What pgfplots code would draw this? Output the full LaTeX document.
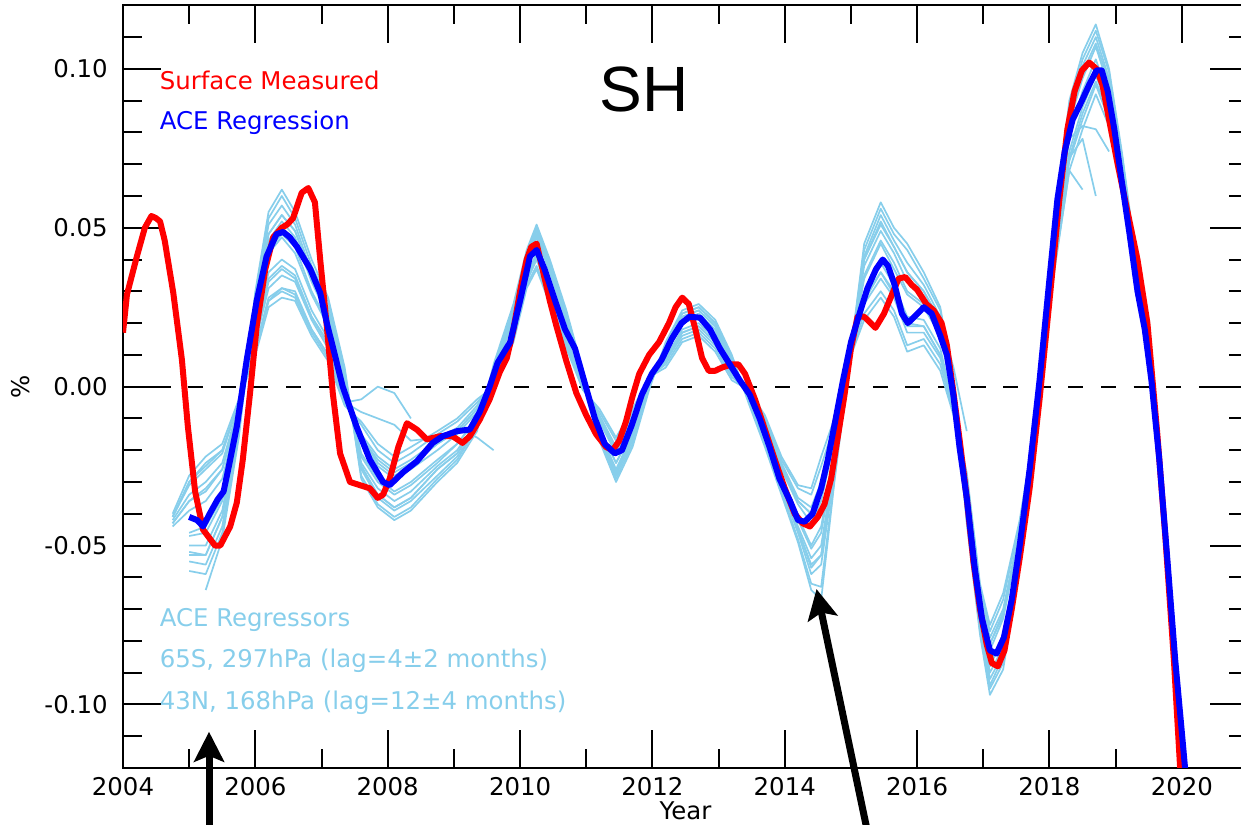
\documentclass[border=0pt]{standalone}
\usepackage{fontspec}
\setmainfont{DejaVu Sans}
\newfontfamily\arialf{Liberation Sans}
\usepackage{pgfplots}
\pgfplotsset{compat=1.18}
\usepackage{pgfplotstable}
\usetikzlibrary{arrows.meta}
\definecolor{skyb}{RGB}{135,206,235}

\pgfplotstableread{
t A K B C D N E F L I J G H O P Q
2004.75 nan nan nan nan nan nan -0.044 -0.042 -0.041 -0.040 -0.043 -0.041 -0.041 nan nan -0.043
2005.0 nan -0.058 -0.055 -0.050 -0.046 -0.047 -0.039 -0.034 -0.030 -0.028 -0.036 -0.030 -0.031 -0.053 -0.052 -0.036
2005.25 -0.064 -0.059 -0.056 -0.050 -0.044 -0.046 -0.036 -0.030 -0.025 -0.022 -0.032 -0.024 -0.026 -0.053 -0.053 -0.033
2005.5 -0.048 -0.046 -0.044 -0.039 -0.035 -0.036 -0.029 -0.024 -0.020 -0.018 -0.026 -0.020 -0.021 -0.041 -0.041 -0.026
2005.75 -0.016 -0.015 -0.014 -0.012 -0.011 -0.011 -0.008 -0.006 -0.005 -0.004 -0.007 -0.005 -0.005 -0.013 -0.013 -0.007
2006.0 0.030 0.029 0.027 0.024 0.021 0.022 0.017 0.014 0.012 0.010 0.015 0.011 0.012 0.026 0.026 0.016
2006.2 0.055 0.053 0.051 0.046 0.042 0.043 0.036 0.031 0.027 0.025 0.033 0.027 0.028 0.048 0.048 0.034
2006.4 0.062 0.060 0.057 0.052 0.047 0.048 0.040 0.035 0.031 0.028 0.037 0.030 0.031 0.054 0.054 0.038
2006.6 0.055 0.053 0.051 0.047 0.042 0.044 0.037 0.033 0.029 0.027 0.034 0.028 0.030 0.049 0.049 0.035
2006.85 0.040 0.038 0.036 0.033 0.029 0.030 0.024 0.021 0.018 0.016 0.022 0.017 0.018 0.035 0.035 0.022
2007.1 0.028 0.027 0.025 0.022 0.019 0.020 0.015 0.012 0.010 0.008 0.013 0.009 0.010 0.024 0.024 0.014
2007.35 0.006 0.005 0.004 0.002 0.001 0.001 -0.002 -0.004 -0.005 -0.006 -0.003 -0.005 -0.005 0.003 0.003 -0.003
2007.6 -0.029 -0.028 -0.026 -0.024 -0.021 -0.022 -0.017 -0.015 -0.012 -0.011 -0.016 -0.004 -0.008 -0.025 -0.025 -0.016
2007.85 -0.038 -0.037 -0.035 -0.032 -0.029 -0.030 -0.025 -0.022 -0.020 -0.018 -0.023 0.000 -0.010 -0.034 -0.034 -0.024
2008.1 -0.042 -0.041 -0.039 -0.036 -0.033 -0.034 -0.029 -0.026 -0.024 -0.022 -0.027 -0.002 -0.012 -0.038 -0.038 -0.028
2008.35 -0.039 -0.038 -0.036 -0.033 -0.030 -0.031 -0.026 -0.023 -0.021 -0.019 -0.024 -0.010 -0.017 -0.035 -0.035 -0.025
2008.75 -0.030 -0.029 -0.028 -0.025 -0.023 -0.024 -0.020 -0.017 -0.015 -0.014 -0.018 nan -0.016 -0.026 -0.026 -0.018
2009.05 -0.024 -0.023 -0.022 -0.020 -0.018 -0.018 -0.015 -0.013 -0.011 -0.010 -0.014 nan -0.013 -0.021 -0.021 -0.014
2009.35 -0.014 -0.013 -0.013 -0.011 -0.010 -0.010 -0.008 -0.006 -0.005 -0.004 -0.007 nan -0.016 -0.012 -0.012 -0.007
2009.6 0.007 0.006 0.006 0.005 0.004 0.004 0.003 0.002 0.001 0.000 0.002 nan -0.020 0.006 0.006 0.003
2009.9 0.026 0.025 0.024 0.022 0.021 0.021 0.018 0.016 0.015 0.014 0.017 nan nan 0.023 0.023 0.017
2010.1 0.043 0.042 0.041 0.039 0.038 0.038 0.035 0.033 0.032 0.031 0.034 nan nan 0.040 0.040 0.034
2010.25 0.051 0.050 0.049 0.047 0.045 0.045 0.042 0.040 0.038 0.037 0.041 nan nan 0.048 0.048 0.041
2010.45 0.040 0.039 0.038 0.036 0.034 0.034 0.031 0.029 0.027 0.026 0.030 nan nan 0.037 0.037 0.030
2010.7 0.024 0.023 0.022 0.020 0.019 0.019 0.016 0.014 0.013 0.012 0.015 nan nan 0.021 0.021 0.015
2010.95 0.005 0.005 0.004 0.003 0.002 0.003 0.001 0.000 -0.001 -0.001 0.000 nan nan 0.004 0.004 0.001
2011.2 -0.017 -0.016 -0.016 -0.014 -0.013 -0.013 -0.011 -0.009 -0.008 -0.007 -0.010 nan nan -0.015 -0.015 -0.010
2011.45 -0.030 -0.029 -0.028 -0.026 -0.024 -0.024 -0.021 -0.019 -0.017 -0.016 -0.020 nan nan -0.027 -0.027 -0.020
2011.7 -0.019 -0.018 -0.017 -0.015 -0.014 -0.014 -0.011 -0.009 -0.008 -0.007 -0.010 nan nan -0.016 -0.016 -0.010
2011.95 -0.001 0.000 0.000 0.001 0.001 0.001 0.002 0.002 0.003 0.003 0.002 nan nan 0.000 0.001 0.002
2012.2 0.014 0.013 0.013 0.012 0.010 0.011 0.009 0.008 0.007 0.006 0.008 nan nan 0.012 0.013 0.008
2012.45 0.024 0.023 0.023 0.021 0.020 0.020 0.018 0.016 0.015 0.014 0.017 nan nan 0.022 0.022 0.017
2012.7 0.026 0.025 0.025 0.023 0.022 0.022 0.020 0.018 0.017 0.016 0.019 nan nan 0.024 0.024 0.019
2012.95 0.021 0.020 0.020 0.018 0.017 0.017 0.015 0.013 0.012 0.011 0.014 nan nan 0.019 0.019 0.014
2013.2 0.010 0.009 0.009 0.008 0.006 0.007 0.005 0.004 0.003 0.002 0.004 nan nan 0.008 0.008 0.004
2013.45 -0.005 -0.004 -0.004 -0.003 -0.003 -0.003 -0.002 -0.002 -0.001 -0.001 -0.002 nan nan -0.004 -0.004 -0.002
2013.7 -0.019 -0.018 -0.018 -0.016 -0.015 -0.015 -0.013 -0.011 -0.010 -0.009 -0.012 nan nan -0.017 -0.017 -0.012
2013.95 -0.034 -0.033 -0.032 -0.030 -0.029 -0.029 -0.026 -0.024 -0.023 -0.022 -0.025 nan nan -0.031 -0.031 -0.025
2014.2 -0.049 -0.048 -0.046 -0.044 -0.041 -0.042 -0.037 -0.035 -0.032 -0.031 -0.036 nan nan -0.045 -0.045 -0.036
2014.4 -0.064 -0.062 -0.059 -0.054 -0.050 -0.051 -0.043 -0.038 -0.034 -0.032 -0.040 nan nan -0.057 -0.056 -0.040
2014.55 -0.067 -0.063 -0.056 -0.050 -0.044 -0.046 -0.036 -0.030 -0.025 -0.022 -0.032 nan nan -0.053 -0.053 -0.033
2014.75 -0.030 -0.029 -0.027 -0.024 -0.021 -0.022 -0.017 -0.014 -0.012 -0.010 -0.015 nan nan -0.026 -0.026 -0.016
2014.95 0.003 0.004 0.004 0.005 0.005 0.005 0.006 0.006 0.007 0.007 0.006 nan nan 0.004 0.004 0.006
2015.2 0.045 0.043 0.041 0.038 0.034 0.035 0.029 0.026 0.023 0.021 0.027 nan nan 0.040 0.040 0.028
2015.45 0.058 0.056 0.054 0.049 0.045 0.046 0.039 0.034 0.030 0.028 0.036 nan nan 0.051 0.052 0.036
2015.65 0.050 0.048 0.046 0.042 0.037 0.039 0.032 0.028 0.024 0.022 0.029 nan nan 0.044 0.044 0.030
2015.85 0.045 0.043 0.039 0.033 0.029 0.030 0.022 0.017 0.013 0.011 0.019 nan nan 0.036 0.036 0.020
2016.1 0.036 0.034 0.032 0.028 0.025 0.026 0.021 0.017 0.015 0.013 0.019 nan nan 0.030 0.030 0.019
2016.35 0.025 0.024 0.022 0.019 0.016 0.017 0.012 0.009 0.007 0.005 0.010 nan nan 0.021 0.020 0.010
2016.55 0.001 0.000 -0.001 -0.002 -0.004 -0.003 -0.006 -0.007 -0.008 -0.009 -0.007 nan nan 0.006 -0.002 -0.006
2016.75 -0.043 -0.042 -0.041 -0.038 -0.036 -0.037 -0.033 -0.030 -0.028 -0.027 -0.031 nan nan -0.014 -0.040 -0.032
2016.95 -0.078 -0.077 -0.076 -0.073 -0.071 -0.072 -0.068 -0.065 -0.063 -0.062 -0.066 nan nan nan -0.074 -0.066
2017.1 -0.097 -0.095 -0.094 -0.090 -0.087 -0.088 -0.083 -0.079 -0.077 -0.075 -0.081 nan nan nan -0.092 -0.081
2017.3 -0.089 -0.087 -0.085 -0.082 -0.078 -0.079 -0.073 -0.070 -0.067 -0.065 -0.071 nan nan nan -0.084 -0.072
2017.55 -0.056 -0.055 -0.054 -0.052 -0.050 -0.050 -0.047 -0.045 -0.043 -0.042 -0.046 nan nan nan -0.053 -0.046
2017.8 -0.014 -0.013 -0.013 -0.012 -0.012 -0.012 -0.011 -0.011 -0.010 -0.010 -0.011 nan nan nan -0.012 -0.011
2018.05 0.047 0.046 0.045 0.043 0.041 0.041 0.038 0.036 0.034 0.033 0.037 nan nan nan 0.044 0.037
2018.3 0.090 0.088 0.086 0.083 0.079 0.078 0.074 0.071 0.068 0.068 0.072 nan nan nan 0.084 0.072
2018.5 0.105 0.103 0.101 0.097 0.093 0.082 0.088 0.084 0.081 0.062 0.078 nan nan nan 0.099 0.086
2018.7 0.114 0.112 0.110 0.107 0.103 0.081 0.098 0.095 0.092 nan 0.060 nan nan nan 0.108 0.096
2018.9 0.100 0.099 0.097 0.094 0.091 0.074 0.087 0.084 0.082 nan nan nan nan nan 0.096 0.086
2019.1 0.073 0.072 0.072 0.070 0.069 nan 0.067 0.065 0.064 nan nan nan nan nan 0.071 0.066
2019.35 0.034 0.033 0.033 0.032 0.030 nan 0.029 0.028 0.027 nan nan nan nan nan 0.032 0.028
2019.6 -0.012 -0.011 -0.011 -0.010 -0.010 nan -0.009 -0.009 -0.008 nan nan nan nan nan -0.010 -0.009
2019.85 -0.074 -0.073 -0.073 -0.072 -0.070 nan -0.069 -0.068 -0.067 nan nan nan nan nan -0.072 -0.068
2020.05 -0.124 -0.123 -0.123 -0.122 -0.120 nan -0.119 -0.118 -0.117 nan nan nan nan nan -0.122 -0.118
2020.15 -0.150 -0.150 -0.150 -0.150 -0.150 nan -0.150 -0.150 -0.150 nan nan nan nan nan -0.150 -0.150
}\ens

\begin{document}
\begin{tikzpicture}
\useasboundingbox (-61.5pt,-28pt) rectangle (559pt,384pt);
\begin{axis}[
  at={(0pt,0pt)}, anchor=south west,
  scale only axis, width=562.5pt, height=381.35pt,
  xmin=2004, xmax=2021, ymin=-0.12, ymax=0.12,
  xtick={2004,2006,2008,2010,2012,2014,2016,2018,2020},
  xticklabels={2004,2006,2008,2010,2012,2014,2016,2018,2020},
  minor xtick={2005,2007,2009,2011,2013,2015,2017,2019},
  ytick={-0.1,-0.05,0,0.05,0.1},
  yticklabels={-0.10,-0.05,0.00,0.05,0.10},
  minor ytick={-0.11,-0.09,-0.08,-0.07,-0.06,-0.04,-0.03,-0.02,-0.01,0.01,0.02,0.03,0.04,0.06,0.07,0.08,0.09,0.11},
  major tick length=19pt, minor tick length=9.5pt,
  tick style={black, line width=1pt},
  axis line style={line width=1pt},
  tick label style={font=\fontsize{12.2}{14}\selectfont},
  yticklabel style={inner sep=0pt, xshift=-7.5pt},
  xticklabel style={inner sep=0pt, yshift=-4.5pt},
  clip mode=individual,
  unbounded coords=jump,
]
\addplot[black, line width=1pt, dash pattern=on 7.5pt off 8.8pt] coordinates {(2004,0) (2021,0)};

\foreach \c in {A,K,B,P,C,D,N,E,Q,F,L,I,J,G,H,O}{
  \addplot[skyb, line width=0.85pt, line join=round] table[x=t, y=\c] {\ens};
}

\addplot[red, line width=3pt, line join=round] coordinates {
(2004.0,0.017) (2004.06,0.029) (2004.21,0.041) (2004.33,0.050) (2004.43,0.0537)
(2004.5,0.053) (2004.56,0.052) (2004.63,0.046) (2004.76,0.0295) (2004.89,0.0085)
(2004.98,-0.0125) (2005.09,-0.033) (2005.21,-0.045) (2005.39,-0.050) (2005.47,-0.050)
(2005.62,-0.044) (2005.72,-0.0365) (2005.81,-0.023) (2005.92,-0.002) (2006.02,0.019)
(2006.15,0.037) (2006.27,0.047) (2006.4,0.050) (2006.48,0.051) (2006.57,0.053)
(2006.7,0.061) (2006.8,0.0625) (2006.9,0.058) (2006.98,0.040) (2007.08,0.019)
(2007.17,-0.002) (2007.28,-0.021) (2007.43,-0.030) (2007.58,-0.031) (2007.73,-0.032)
(2007.85,-0.035) (2007.93,-0.034) (2008.03,-0.029) (2008.16,-0.019) (2008.29,-0.0115)
(2008.44,-0.0135) (2008.59,-0.0166) (2008.79,-0.0156) (2008.98,-0.0156) (2009.13,-0.0177)
(2009.24,-0.0156) (2009.39,-0.0104) (2009.54,-0.004) (2009.69,0.0044) (2009.8,0.009)
(2009.9,0.018) (2010.0,0.030) (2010.1,0.040) (2010.17,0.044) (2010.25,0.045)
(2010.35,0.036) (2010.45,0.027) (2010.55,0.019) (2010.7,0.008) (2010.85,-0.002)
(2011.0,-0.009) (2011.15,-0.015) (2011.3,-0.019) (2011.4,-0.020) (2011.5,-0.017)
(2011.6,-0.011) (2011.7,-0.003) (2011.8,0.004) (2011.95,0.010) (2012.1,0.014)
(2012.25,0.020) (2012.35,0.025) (2012.45,0.028) (2012.55,0.026) (2012.65,0.018)
(2012.75,0.009) (2012.85,0.005) (2012.95,0.005) (2013.05,0.006) (2013.2,0.007)
(2013.3,0.007) (2013.4,0.004) (2013.55,-0.004) (2013.7,-0.0135) (2013.85,-0.023)
(2014.0,-0.032) (2014.15,-0.040) (2014.27,-0.043) (2014.38,-0.044) (2014.5,-0.041)
(2014.6,-0.037) (2014.7,-0.029) (2014.8,-0.016) (2014.9,-0.003) (2015.0,0.012)
(2015.1,0.022) (2015.2,0.022) (2015.3,0.020) (2015.37,0.0185) (2015.5,0.023)
(2015.62,0.029) (2015.72,0.034) (2015.82,0.0345) (2015.92,0.032) (2016.0,0.0305)
(2016.14,0.026) (2016.25,0.024) (2016.37,0.020) (2016.45,0.013) (2016.55,-0.002)
(2016.65,-0.018) (2016.75,-0.035) (2016.85,-0.055) (2016.95,-0.070) (2017.05,-0.081)
(2017.13,-0.087) (2017.22,-0.088) (2017.32,-0.083) (2017.43,-0.070) (2017.55,-0.054)
(2017.7,-0.032) (2017.85,-0.004) (2018.0,0.027) (2018.15,0.059) (2018.27,0.081)
(2018.38,0.093) (2018.49,0.0995) (2018.6,0.102) (2018.71,0.100) (2018.8,0.095)
(2018.91,0.083) (2019.03,0.070) (2019.18,0.055) (2019.33,0.040) (2019.48,0.020)
(2019.63,-0.015) (2019.75,-0.047) (2019.88,-0.086) (2019.98,-0.122)
};

\addplot[blue, line width=3pt, line join=round] coordinates {
(2005.0,-0.041) (2005.12,-0.042) (2005.21,-0.044) (2005.31,-0.040) (2005.43,-0.0355)
(2005.52,-0.033) (2005.6,-0.025) (2005.72,-0.0125) (2005.87,0.0085) (2006.02,0.027)
(2006.17,0.041) (2006.32,0.048) (2006.42,0.0487) (2006.52,0.047) (2006.63,0.044)
(2006.83,0.037) (2006.98,0.0295) (2007.08,0.020) (2007.17,0.0126) (2007.32,0.0)
(2007.53,-0.0126) (2007.73,-0.023) (2007.93,-0.030) (2008.03,-0.031) (2008.23,-0.027)
(2008.44,-0.0235) (2008.68,-0.0177) (2008.83,-0.0156) (2009.05,-0.014) (2009.24,-0.0135)
(2009.39,-0.008) (2009.54,0.0) (2009.66,0.0075) (2009.85,0.014) (2010.0,0.027)
(2010.15,0.041) (2010.25,0.043) (2010.37,0.037) (2010.53,0.027) (2010.68,0.018)
(2010.83,0.012) (2010.98,0.001) (2011.13,-0.010) (2011.28,-0.018) (2011.43,-0.021)
(2011.54,-0.020) (2011.69,-0.012) (2011.84,-0.0025) (2011.99,0.004) (2012.14,0.0085)
(2012.29,0.015) (2012.44,0.020) (2012.56,0.022) (2012.72,0.0217) (2012.87,0.018)
(2013.02,0.012) (2013.17,0.007) (2013.32,0.002) (2013.47,-0.0025) (2013.62,-0.010)
(2013.77,-0.019) (2013.92,-0.029) (2014.08,-0.036) (2014.2,-0.042) (2014.3,-0.0425)
(2014.42,-0.040) (2014.55,-0.032) (2014.65,-0.023) (2014.77,-0.010) (2014.88,0.002)
(2015.0,0.014) (2015.13,0.023) (2015.25,0.031) (2015.38,0.037) (2015.48,0.040)
(2015.56,0.038) (2015.66,0.032) (2015.77,0.023) (2015.86,0.020) (2015.96,0.022)
(2016.1,0.025) (2016.22,0.023) (2016.35,0.016) (2016.45,0.010) (2016.55,-0.003)
(2016.64,-0.019) (2016.75,-0.035) (2016.87,-0.057) (2016.98,-0.073) (2017.1,-0.083)
(2017.2,-0.084) (2017.31,-0.079) (2017.43,-0.067) (2017.55,-0.050) (2017.7,-0.026)
(2017.85,0.002) (2018.0,0.034) (2018.12,0.059) (2018.23,0.074) (2018.35,0.084)
(2018.49,0.090) (2018.6,0.095) (2018.71,0.0995) (2018.79,0.0995) (2018.88,0.093)
(2018.98,0.081) (2019.09,0.065) (2019.21,0.048) (2019.33,0.030) (2019.44,0.018)
(2019.54,0.002) (2019.66,-0.023) (2019.78,-0.054) (2019.9,-0.086) (2020.01,-0.111)
(2020.07,-0.125)
};

\node[anchor=base west, text=red, inner sep=0pt, font=\fontsize{12.2}{14}\selectfont] at (axis cs:2004.55,0.0935) {Surface Measured};
\node[anchor=base west, text=blue, inner sep=0pt, font=\fontsize{12.2}{14}\selectfont] at (axis cs:2004.55,0.081) {ACE Regression};
\node[anchor=base west, text=skyb, inner sep=0pt, font=\fontsize{12.2}{14}\selectfont] at (axis cs:2004.55,-0.0756) {ACE Regressors};
\node[anchor=base west, text=skyb, inner sep=0pt, font=\fontsize{12.2}{14}\selectfont] at (axis cs:2004.55,-0.0885) {65S, 297hPa (lag=4±2 months)};
\node[anchor=base west, text=skyb, inner sep=0pt, font=\fontsize{12.2}{14}\selectfont] at (axis cs:2004.55,-0.1017) {43N, 168hPa (lag=12±4 months)};
\node[anchor=base, inner sep=0pt, font=\arialf\fontsize{32}{36}\selectfont] at (axis cs:2011.87,0.0865) {SH};
\node[anchor=base, inner sep=0pt, font=\fontsize{12.2}{14}\selectfont] at ([yshift=-25.5pt]rel axis cs:0.5,0) {Year};
\node[rotate=90, inner sep=0pt, font=\fontsize{12.2}{14}\selectfont] at ([xshift=-51pt]rel axis cs:0,0.5) {\%};

\draw[line width=3.5pt, -{Stealth[length=15pt,width=15pt,inset=3pt]}] (axis cs:2005.30,-0.15) -- (axis cs:2005.30,-0.1086);
\draw[line width=3.5pt, -{Stealth[length=15pt,width=15pt,inset=3pt]}] (axis cs:2015.37,-0.152) -- (axis cs:2014.48,-0.0637);
\end{axis}
\end{tikzpicture}
\end{document}
